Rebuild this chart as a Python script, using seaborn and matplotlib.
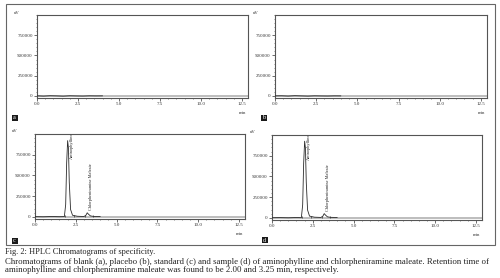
import matplotlib
matplotlib.use("Agg")
import matplotlib.pyplot as plt
import seaborn as sns
import pandas as pd
from matplotlib.ticker import MultipleLocator, FixedLocator
from matplotlib.patches import Rectangle

# ---- data ----
t_blank = [0.0, 0.4, 0.8, 1.2, 1.6, 2.0, 2.4, 2.8, 3.2, 3.6, 4.0]
y_blank = [2000, -1500, 3000, 1000, -2000, 2500, 500, -1000, 2000, 800, 1500]
t_placebo = [0.0, 0.4, 0.8, 1.2, 1.6, 2.0, 2.4, 2.8, 3.2, 3.6, 4.0]
y_placebo = [1500, 2500, -1000, 3500, 1000, -1500, 2000, 500, -500, 1500, 1000]
t_std = [0.0, 0.5, 1.0, 1.5, 1.8, 1.88, 1.94, 2.0, 2.05, 2.1, 2.18, 2.3, 2.6, 3.0, 3.12, 3.2, 3.28, 3.4, 3.6, 4.0]
y_std = [4000, 2000, 5000, 3000, 4000, 150000, 650000, 920000, 830000, 420000, 90000, 20000, 8000, 5000, 20000, 50000, 32000, 12000, 6000, 4000]
t_smp = [0.0, 0.5, 1.0, 1.5, 1.8, 1.88, 1.94, 2.0, 2.05, 2.1, 2.18, 2.3, 2.6, 3.0, 3.12, 3.2, 3.28, 3.4, 3.6, 4.0]
y_smp = [3000, 4000, 2000, 5000, 3000, 160000, 660000, 925000, 840000, 430000, 95000, 22000, 9000, 6000, 22000, 52000, 34000, 13000, 7000, 5000]
peak_names = ["Aminophylline", "Chlorpheniramine Maleate"]
peak_label_pos = [(2.12, 700000), (3.28, 80000)]
panel_letters = ["a", "b", "c", "d"]
x_ticks = [0.0, 2.5, 5.0, 7.5, 10.0, 12.5]
x_tick_labels = ["0.0", "2.5", "5.0", "7.5", "10.0", "12.5"]
y_ticks = [0, 250000, 500000, 750000]
caption_title = "Fig. 2: HPLC Chromatograms of specificity."
caption_body = ("Chromatograms of blank (a), placebo (b), standard (c) and sample (d) of aminophylline and chlorpheniramine maleate. Retention time of\n"
                "aminophylline and chlorpheniramine maleate was found to be 2.00 and 3.25 min, respectively.")

sns.set_theme(style="white")
plt.rcParams['font.family'] = ['Liberation Serif', 'DejaVu Serif']

W, H = 500, 278
fig = plt.figure(figsize=(W / 100, H / 100), dpi=100)

def fx(px):
    return px / W

def fy(py):
    return 1 - py / H

# axes boxes in pixel coords: (left, top, right, bottom)
boxes = [(37, 15, 248, 98), (275, 15, 487, 98), (35, 134, 245, 219), (272, 135, 482, 220)]
series = [(t_blank, y_blank), (t_placebo, y_placebo), (t_std, y_std), (t_smp, y_smp)]
letter_pos = [(14.5, 117.5), (263.5, 117.5), (14.5, 240.5), (264.5, 240)]
min_pos = [(243, 113), (482, 113), (240, 234), (477, 235)]
uv_pos = [(17, 13), (256, 13), (15, 131), (253, 132)]

spine_c = "#555555"
for i, ((l, t, r, b), (tx, ty)) in enumerate(zip(boxes, series)):
    ax = fig.add_axes([fx(l), fy(b), fx(r - l), (b - t) / H])
    ax.axhline(0, color="#bdbdbd", lw=1.4, zorder=1)
    df = pd.DataFrame({"t": tx, "s": ty})
    sns.lineplot(data=df, x="t", y="s", ax=ax, color="#2a2a2a", lw=0.6, zorder=3)
    if i >= 2:
        for name, (px, py) in zip(peak_names, peak_label_pos):
            ax.text(px, py, name, rotation=90, fontsize=3.2, ha="left", va="bottom", color="#222222")
        ax.plot([1.86, 2.4, 3.05, 3.55], [8000, 10000, 8000, 12000], linestyle="none",
                marker="|", ms=2, color="#333333", mew=0.5)
    ax.set_xlim(0, 12.87)
    ax.set_ylim(-25000, 1000000)
    ax.xaxis.set_major_locator(FixedLocator(x_ticks))
    ax.set_xticklabels(x_tick_labels)
    ax.xaxis.set_minor_locator(MultipleLocator(0.5))
    ax.yaxis.set_major_locator(FixedLocator(y_ticks))
    ax.set_yticklabels([str(v) for v in y_ticks])
    ax.yaxis.set_minor_locator(MultipleLocator(50000))
    ax.tick_params(axis="both", which="major", direction="out", length=2, width=0.5,
                   labelsize=3.6, pad=1, colors="#333333", bottom=True, left=True)
    ax.tick_params(axis="both", which="minor", direction="out", length=1, width=0.4,
                   colors="#333333", bottom=True, left=True)
    ax.set_xlabel("")
    ax.set_ylabel("")
    for s in ax.spines.values():
        s.set_color(spine_c)
        s.set_linewidth(0.8)
        s.set_visible(True)
    # panel letters
    lx, ly = letter_pos[i]
    fig.patches.append(Rectangle((fx(lx - 3), fy(ly + 3)), 6 / W, 6 / H, transform=fig.transFigure,
                                 facecolor="#1a1a1a", edgecolor="none"))
    fig.text(fx(lx), fy(ly), panel_letters[i], color="white", fontsize=4.5, ha="center", va="center")
    mx, my = min_pos[i]
    fig.text(fx(mx), fy(my), "min", fontsize=3.4, ha="center", va="center", color="#333333")
    ux, uy = uv_pos[i]
    fig.text(fx(ux), fy(uy), "uV", fontsize=3.4, ha="center", va="center", color="#333333")

# outer frame
fig.patches.append(Rectangle((fx(6), fy(245)), fx(489), 241 / H, transform=fig.transFigure,
                             facecolor="none", edgecolor="#666666", lw=0.8))

fig.text(fx(5), fy(252), caption_title, fontsize=6.0, ha="left", va="center", color="#222222")
fig.text(fx(5), fy(258.5), caption_body, fontsize=6.3, ha="left", va="top", color="#222222",
         linespacing=1.0)

fig.savefig("out.png", dpi=100)
